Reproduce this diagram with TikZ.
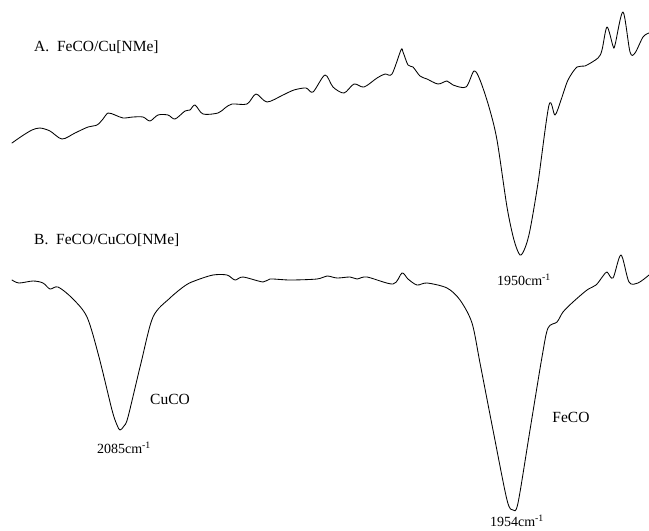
\documentclass[tikz,border=0pt]{standalone}
\usepackage{fontspec}
\setmainfont{Liberation Serif}
\begin{document}
\begin{tikzpicture}[x=1pt,y=-1pt,
  spec/.style={line width=0.85pt, line join=round, line cap=round},
  lbl/.style={font=\fontsize{15.5}{17}\selectfont, inner sep=0pt},
  peak/.style={font=\fontsize{14}{15}\selectfont, inner sep=0pt}]
\useasboundingbox[fill=white] (0,0) rectangle (649,531);
% spectrum A
\draw[spec] plot[smooth, tension=0.5] coordinates {
(12,143) (22,136) (32,130) (40,128) (50,131) (62,139) (75,133) (88,127) (97,125) (103,119) (108,113) (115,115) (123,118) (133,117) (143,117) (150,121) (158,115) (168,115) (175,119) (185,111) (190,110) (195,105) (203,114) (218,113) (225,108) (232,104) (247,104) (256,94) (267,102) (283,95) (294,90) (306,88) (313,92) (325,75) (333,87) (344,93) (354,84) (364,87) (377,78) (385,74) (392,74) (401,50) (403,52) (408,65) (413,67) (420,76) (427,79) (438,84) (447,81) (453,85) (466,87) (474,71) (480,80) (489,107) (497,140) (507,207) (514,240) (520,255) (525,248) (530,230) (538,183) (549,105) (555,115) (561,100) (568,80) (577,67) (585,66) (598,58) (602,50) (607,27) (613,46) (615,45) (623,12) (630,52) (635,53) (643,37) (649,33)};
% spectrum B
\draw[spec] plot[smooth, tension=0.5] coordinates {
(12,280) (19,283) (33,281) (43,283) (50,289) (58,287) (72,298) (87,317) (99,357) (112,410) (117,425) (120,430) (124,426) (128,417) (141,363) (153,317) (170,298) (186,285) (197,280) (213,275) (227,275) (235,280) (243,277) (263,282) (270,279) (290,280) (317,279) (327,276) (337,278) (350,277) (357,279) (367,277) (393,284) (402,273) (408,279) (417,285) (427,283) (447,288) (460,300) (472,323) (480,363) (493,430) (507,500) (513,510) (518,503) (530,430) (542,357) (548,328) (557,322) (563,312) (573,302) (587,290) (596,285) (603,276) (607,272) (613,278) (621,255) (629,282) (638,283) (649,275)};
% labels
\node[lbl, anchor=west] (la) at (34,47) {A.\ \ FeCO/Cu[NMe]};
\node[lbl, anchor=west] (lb) at (34,240) {B.\ \ FeCO/CuCO[NMe]};
\node[peak] (p1950) at (524,280) {1950cm\textsuperscript{-1}};
\node[lbl] (cuco) at (170,399) {CuCO};
\node[peak] (p2085) at (124,448) {2085cm\textsuperscript{-1}};
\node[lbl] (feco) at (571,417) {FeCO};
\node[peak, anchor=south] (p1954) at (517,527) {1954cm\textsuperscript{-1}};
\end{tikzpicture}
\end{document}
